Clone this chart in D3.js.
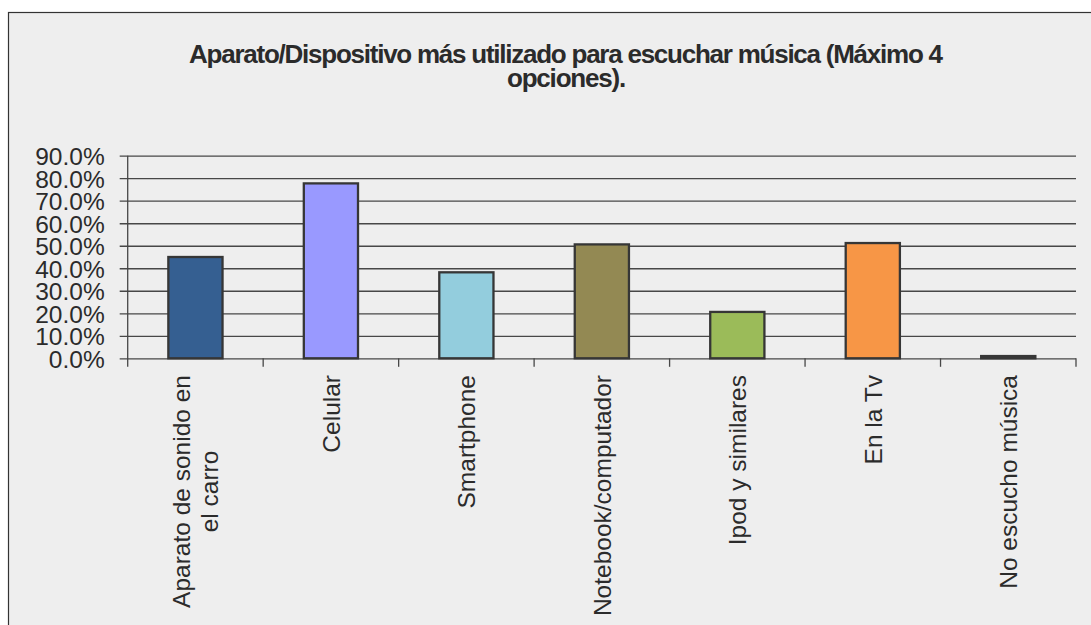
<!DOCTYPE html>
<html>
<head>
<meta charset="utf-8">
<script src="https://cdn.jsdelivr.net/npm/d3@7/dist/d3.min.js"></script>
<style>
  html, body { margin: 0; padding: 0; background: #ffffff; }
  svg { display: block; }
  text { font-family: "Liberation Sans", Arial, sans-serif; fill: #2b2b2b; }
</style>
</head>
<body>
<svg id="chart" width="1091" height="625"></svg>
<script>
// Survey results: most used device for listening to music (up to 4 choices)
const titleLines = [
  "Aparato/Dispositivo más utilizado para escuchar música (Máximo 4",
  "opciones)."
];
const categories = [
  ["Aparato de sonido en", "el carro"],
  ["Celular"],
  ["Smartphone"],
  ["Notebook/computador"],
  ["Ipod y similares"],
  ["En la Tv"],
  ["No escucho música"]
];
const values = [0.450, 0.777, 0.382, 0.506, 0.206, 0.512, 0.010];
const barColors = ["#355f91", "#9999ff", "#93cddd", "#938953", "#9bbb59", "#f79646", "#3a3a3a"];
const yTicks = [0, 0.1, 0.2, 0.3, 0.4, 0.5, 0.6, 0.7, 0.8, 0.9];

const svg = d3.select("#chart");

// chart frame
svg.append("rect")
  .attr("x", 8.5).attr("y", 12.5)
  .attr("width", 1100).attr("height", 700)
  .attr("fill", "#eeeeee")
  .attr("stroke", "#333333")
  .attr("stroke-width", 1.2);

const plot = { left: 127.7, right: 1076, top: 155.7, bottom: 358.3 };

const y = d3.scaleLinear().domain([0, 0.9]).range([plot.bottom, plot.top]);
const keys = categories.map(c => c.join(" "));
const x = d3.scaleBand().domain(keys)
  .range([plot.left, plot.right])
  .paddingInner(0.6).paddingOuter(0.3);
const step = x.step();

// title: two centred lines with tight tracking
const title = svg.append("g");
titleLines.forEach((line, i) => {
  const t = title.append("text")
    .attr("x", 566)
    .attr("y", 63.3 + i * 23.4)
    .attr("text-anchor", "middle")
    .attr("font-size", 26)
    .attr("font-weight", "bold")
    .text(line);
  if (i === 0) t.attr("textLength", 754).attr("lengthAdjust", "spacing");
  else t.attr("letter-spacing", -1.2);
});

// horizontal gridlines with outward ticks
const yAxis = d3.axisLeft(y)
  .tickValues(yTicks)
  .tickFormat(d3.format(".1%"))
  .tickSize(-(plot.right - plot.left))
  .tickPadding(23);
const gy = svg.append("g")
  .attr("transform", `translate(${plot.left},0)`)
  .call(yAxis);
gy.select(".domain").remove();
gy.selectAll(".tick line")
  .attr("x1", -8)
  .attr("stroke", "#474747")
  .attr("stroke-width", 1.3);
gy.selectAll(".tick text")
  .attr("font-size", 24.5)
  .attr("dy", "0.36em")
  .attr("fill", "#2b2b2b");

// vertical axis line
svg.append("line")
  .attr("x1", plot.left).attr("x2", plot.left)
  .attr("y1", plot.top).attr("y2", plot.bottom + 8.5)
  .attr("stroke", "#474747").attr("stroke-width", 1.3);

// category boundary ticks below the baseline
svg.append("g").selectAll("line")
  .data(d3.range(1, categories.length + 1))
  .join("line")
  .attr("x1", i => plot.left + i * step)
  .attr("x2", i => plot.left + i * step)
  .attr("y1", plot.bottom)
  .attr("y2", plot.bottom + 8.5)
  .attr("stroke", "#474747").attr("stroke-width", 1.3);

// bars
svg.append("g").selectAll("rect")
  .data(values)
  .join("rect")
  .attr("x", (d, i) => x(keys[i]))
  .attr("width", x.bandwidth())
  .attr("y", d => y(d))
  .attr("height", d => y(0) - y(d))
  .attr("fill", (d, i) => barColors[i])
  .attr("stroke", "#363636")
  .attr("stroke-width", 2.3);

// rotated category labels, top edge aligned just under the axis
const labelTop = 375;
categories.forEach((lines, i) => {
  const cx = x(keys[i]) + x.bandwidth() / 2;
  const g = svg.append("g");
  const texts = lines.map((line, j) => g.append("text")
    .attr("font-size", 24.5)
    .attr("text-anchor", "middle")
    .text(line));
  const w = d3.max(texts, t => t.node().getComputedTextLength());
  const cy = labelTop + w / 2;
  const lineGap = 28.5;
  const n = lines.length;
  texts.forEach((t, j) => {
    const bx = cx + 8.8 + (j - (n - 1) / 2) * lineGap;
    t.attr("transform", `translate(${bx},${cy}) rotate(-90)`);
  });
});
</script>
</body>
</html>
